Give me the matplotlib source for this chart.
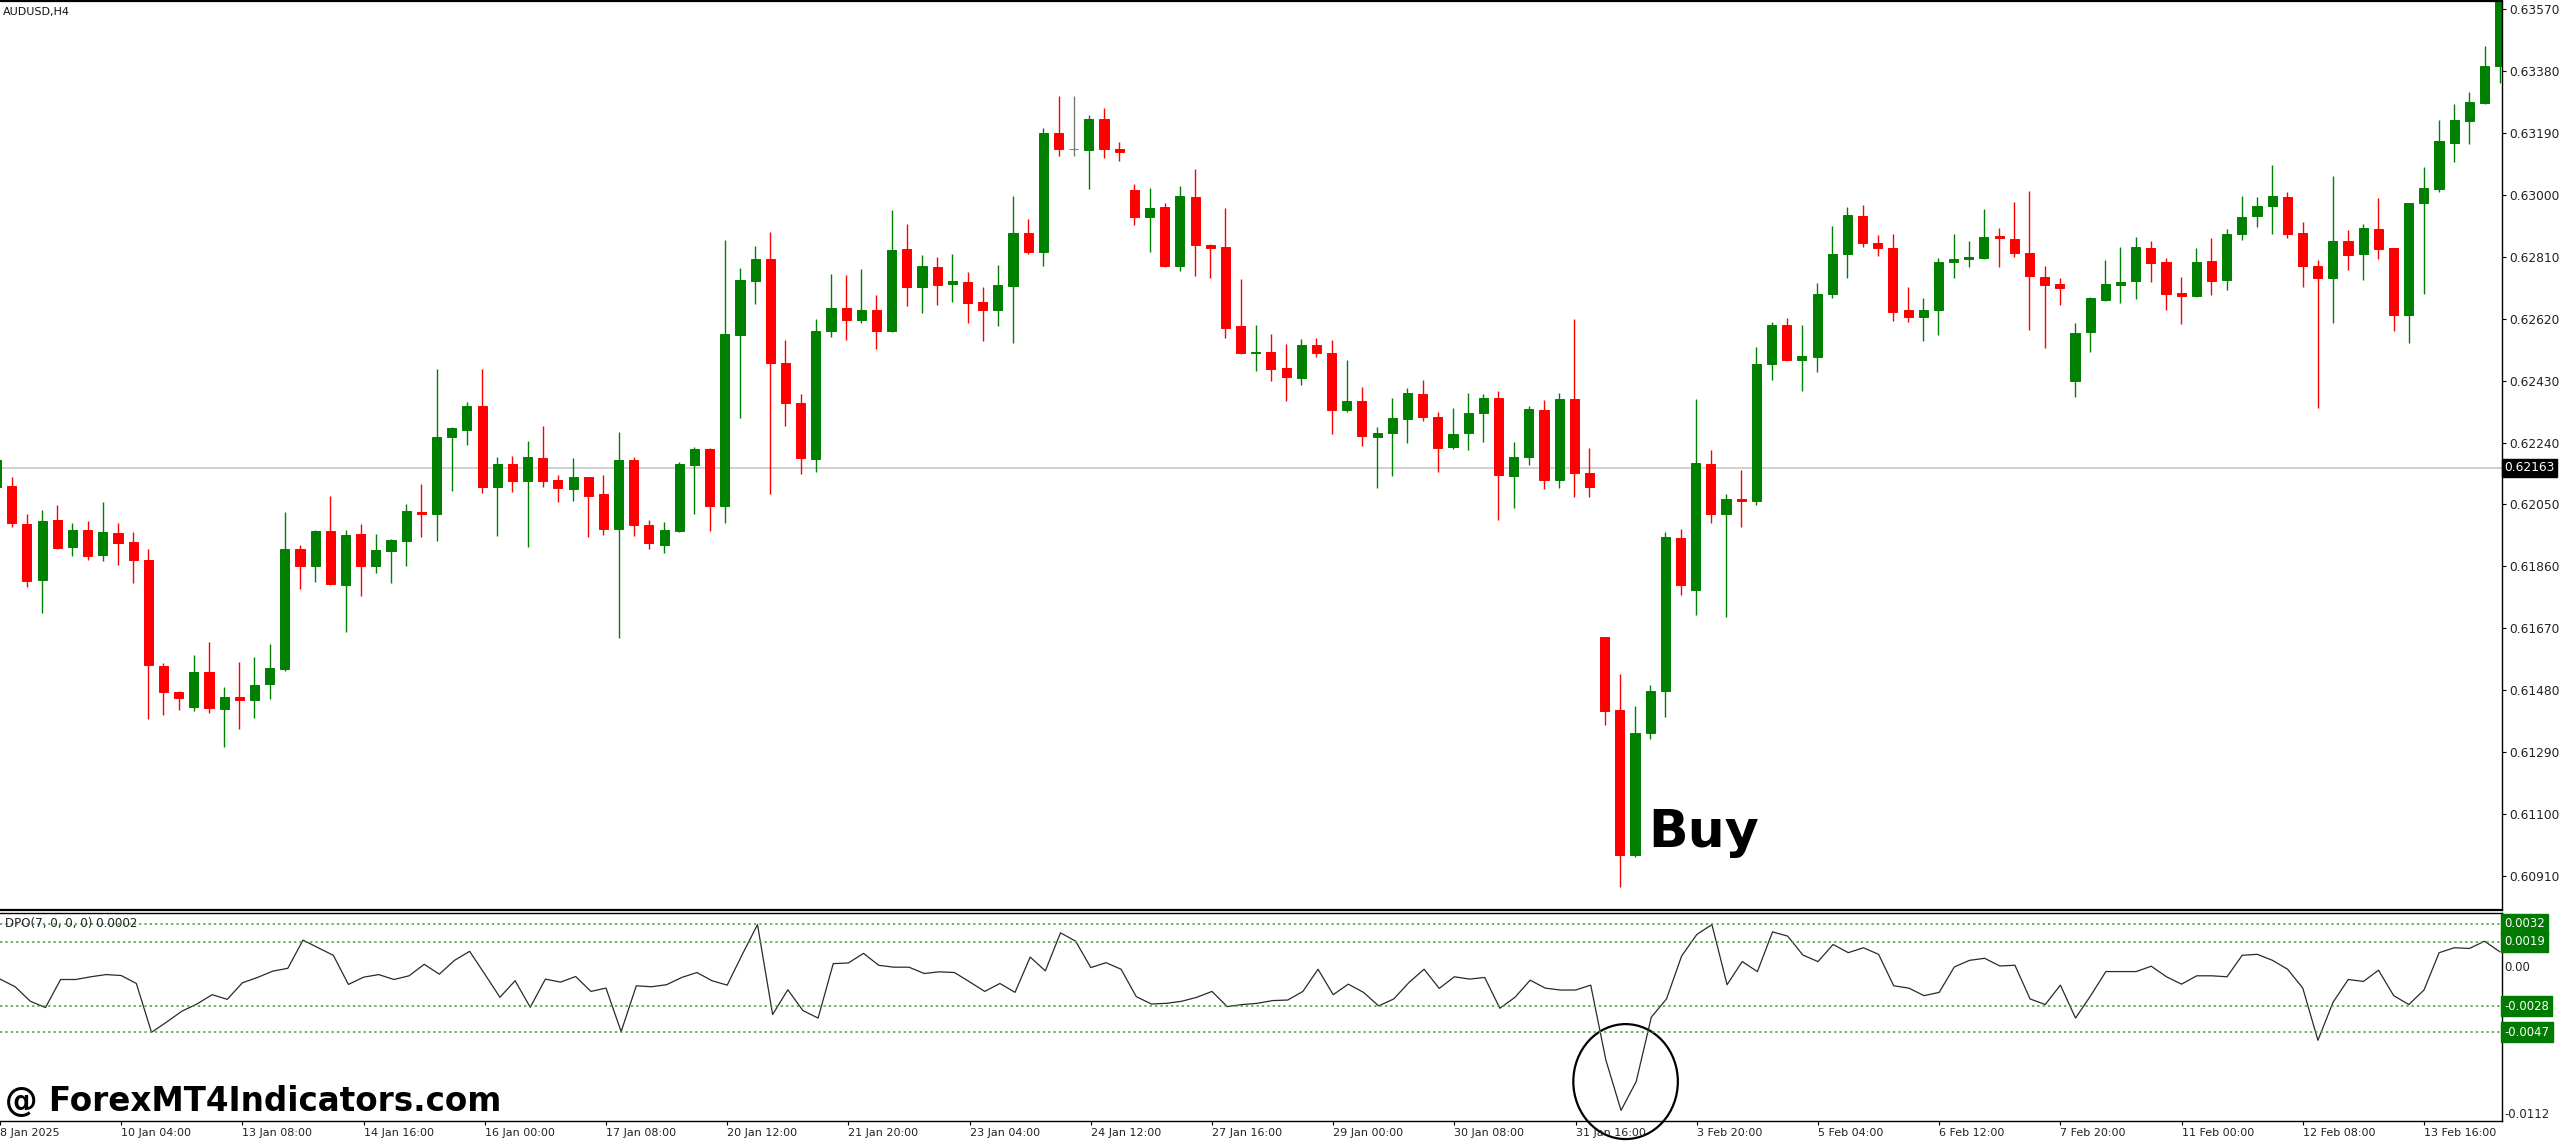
import matplotlib
matplotlib.use('Agg')
import matplotlib.pyplot as plt
from matplotlib.patches import Ellipse
import numpy as np

# AUDUSD H4 candles, 8 Jan 2025 20:00 .. 14 Feb 2025 12:00
opens = [0.62105, 0.62108, 0.61989, 0.61817, 0.62001, 0.61918, 0.61973, 0.61894, 0.61961, 0.61934,
         0.61881, 0.61554, 0.61474, 0.61428, 0.61535, 0.61422, 0.61459, 0.61449, 0.61498, 0.61544,
         0.61912, 0.61860, 0.61970, 0.61802, 0.61958, 0.61860, 0.61906, 0.61937, 0.62027, 0.62022,
         0.62258, 0.62277, 0.62353, 0.62102, 0.62173, 0.62121, 0.62194, 0.62124, 0.62096, 0.62133,
         0.62081, 0.61976, 0.62185, 0.61986, 0.61927, 0.61970, 0.62170, 0.62219, 0.62044, 0.62571,
         0.62737, 0.62804, 0.62485, 0.62360, 0.62188, 0.62583, 0.62654, 0.62617, 0.62645, 0.62583,
         0.62835, 0.62718, 0.62779, 0.62727, 0.62733, 0.62672, 0.62648, 0.62721, 0.62884, 0.62825,
         0.63190, 0.63141, 0.63138, 0.63233, 0.63141, 0.63015, 0.62933, 0.62963, 0.62782, 0.62994,
         0.62847, 0.62841, 0.62596, 0.62514, 0.62517, 0.62468, 0.62439, 0.62540, 0.62514, 0.62341,
         0.62366, 0.62258, 0.62268, 0.62311, 0.62390, 0.62317, 0.62226, 0.62268, 0.62330, 0.62376,
         0.62136, 0.62197, 0.62341, 0.62124, 0.62375, 0.62147, 0.61642, 0.61419, 0.60974, 0.61348,
         0.61477, 0.61946, 0.61786, 0.62173, 0.62022, 0.62068, 0.62062, 0.62482, 0.62602, 0.62494,
         0.62501, 0.62697, 0.62819, 0.62936, 0.62853, 0.62838, 0.62645, 0.62626, 0.62648, 0.62795,
         0.62804, 0.62807, 0.62874, 0.62865, 0.62822, 0.62749, 0.62727, 0.62430, 0.62580, 0.62678,
         0.62724, 0.62737, 0.62838, 0.62795, 0.62700, 0.62691, 0.62798, 0.62740, 0.62880, 0.62936,
         0.62966, 0.62994, 0.62884, 0.62782, 0.62746, 0.62859, 0.62819, 0.62896, 0.62838, 0.62632,
         0.62976, 0.63018, 0.63159, 0.63227, 0.63282, 0.63395]
highs = [0.62191, 0.62133, 0.62022, 0.62032, 0.62047, 0.61992, 0.61998, 0.62056, 0.61992, 0.61964,
         0.61912, 0.61563, 0.61477, 0.61587, 0.61627, 0.61489, 0.61566, 0.61581, 0.61621, 0.62026,
         0.61927, 0.61973, 0.62075, 0.61973, 0.61989, 0.61958, 0.61943, 0.62050, 0.62114, 0.62467,
         0.62289, 0.62363, 0.62464, 0.62197, 0.62200, 0.62246, 0.62292, 0.62139, 0.62194, 0.62133,
         0.62139, 0.62271, 0.62197, 0.62001, 0.61995, 0.62179, 0.62225, 0.62222, 0.62862, 0.62776,
         0.62844, 0.62887, 0.62556, 0.62390, 0.62620, 0.62758, 0.62755, 0.62773, 0.62694, 0.62954,
         0.62911, 0.62816, 0.62810, 0.62819, 0.62764, 0.62718, 0.62786, 0.62997, 0.62926, 0.63205,
         0.63303, 0.63303, 0.63245, 0.63267, 0.63162, 0.63034, 0.63021, 0.62976, 0.63028, 0.63080,
         0.62850, 0.62960, 0.62743, 0.62599, 0.62574, 0.62543, 0.62559, 0.62562, 0.62556, 0.62494,
         0.62409, 0.62289, 0.62378, 0.62406, 0.62433, 0.62334, 0.62346, 0.62393, 0.62390, 0.62399,
         0.62243, 0.62353, 0.62369, 0.62392, 0.62620, 0.62222, 0.61642, 0.61529, 0.61431, 0.61495,
         0.61964, 0.61976, 0.62375, 0.62216, 0.62081, 0.62157, 0.62534, 0.62611, 0.62623, 0.62602,
         0.62730, 0.62905, 0.62963, 0.62969, 0.62877, 0.62880, 0.62718, 0.62684, 0.62807, 0.62880,
         0.62859, 0.62957, 0.62899, 0.62979, 0.63012, 0.62782, 0.62746, 0.62608, 0.62687, 0.62801,
         0.62841, 0.62871, 0.62859, 0.62807, 0.62749, 0.62838, 0.62868, 0.62896, 0.62997, 0.62994,
         0.63092, 0.63009, 0.62917, 0.62801, 0.63058, 0.62893, 0.62911, 0.62991, 0.62838, 0.62976,
         0.63086, 0.63230, 0.63279, 0.63316, 0.63457, 0.63610]
lows = [0.62087, 0.61980, 0.61796, 0.61716, 0.61912, 0.61891, 0.61881, 0.61878, 0.61863, 0.61808,
        0.61391, 0.61403, 0.61419, 0.61416, 0.61410, 0.61305, 0.61361, 0.61394, 0.61452, 0.61538,
        0.61790, 0.61811, 0.61802, 0.61658, 0.61768, 0.61839, 0.61808, 0.61860, 0.61949, 0.61937,
        0.62090, 0.62231, 0.62084, 0.61952, 0.62087, 0.61918, 0.62102, 0.62056, 0.62062, 0.61949,
        0.61955, 0.61639, 0.61952, 0.61912, 0.61900, 0.61964, 0.62022, 0.61967, 0.61992, 0.62314,
        0.62666, 0.62081, 0.62292, 0.62142, 0.62151, 0.62565, 0.62553, 0.62608, 0.62528, 0.62580,
        0.62660, 0.62638, 0.62663, 0.62672, 0.62608, 0.62550, 0.62596, 0.62546, 0.62819, 0.62782,
        0.63120, 0.63120, 0.63018, 0.63113, 0.63104, 0.62908, 0.62825, 0.62779, 0.62767, 0.62752,
        0.62746, 0.62562, 0.62513, 0.62458, 0.62430, 0.62366, 0.62416, 0.62501, 0.62265, 0.62334,
        0.62228, 0.62099, 0.62136, 0.62237, 0.62307, 0.62148, 0.62219, 0.62216, 0.62243, 0.62001,
        0.62038, 0.62171, 0.62098, 0.62101, 0.62073, 0.62073, 0.61373, 0.60875, 0.60968, 0.61330,
        0.61397, 0.61771, 0.61710, 0.61992, 0.61704, 0.61980, 0.62047, 0.62433, 0.62491, 0.62399,
        0.62455, 0.62684, 0.62746, 0.62841, 0.62813, 0.62614, 0.62611, 0.62550, 0.62571, 0.62746,
        0.62779, 0.62804, 0.62779, 0.62810, 0.62586, 0.62531, 0.62663, 0.62381, 0.62519, 0.62675,
        0.62669, 0.62681, 0.62733, 0.62645, 0.62605, 0.62687, 0.62694, 0.62709, 0.62862, 0.62902,
        0.62880, 0.62868, 0.62718, 0.62347, 0.62608, 0.62770, 0.62740, 0.62804, 0.62583, 0.62546,
        0.62697, 0.63009, 0.63101, 0.63156, 0.63279, 0.63343]
closes = [0.62185, 0.61992, 0.61814, 0.61998, 0.61915, 0.61973, 0.61891, 0.61964, 0.61931, 0.61881,
          0.61557, 0.61474, 0.61456, 0.61535, 0.61425, 0.61459, 0.61449, 0.61495, 0.61547, 0.61912,
          0.61860, 0.61967, 0.61805, 0.61955, 0.61860, 0.61909, 0.61940, 0.62029, 0.62022, 0.62258,
          0.62283, 0.62353, 0.62102, 0.62173, 0.62121, 0.62197, 0.62121, 0.62099, 0.62133, 0.62075,
          0.61976, 0.62185, 0.61986, 0.61931, 0.61973, 0.62173, 0.62219, 0.62044, 0.62574, 0.62740,
          0.62804, 0.62485, 0.62360, 0.62191, 0.62583, 0.62654, 0.62617, 0.62645, 0.62583, 0.62831,
          0.62718, 0.62782, 0.62724, 0.62737, 0.62669, 0.62648, 0.62724, 0.62884, 0.62825, 0.63190,
          0.63141, 0.63141, 0.63233, 0.63141, 0.63132, 0.62933, 0.62960, 0.62782, 0.62997, 0.62847,
          0.62838, 0.62592, 0.62516, 0.62519, 0.62467, 0.62441, 0.62540, 0.62514, 0.62341, 0.62366,
          0.62260, 0.62268, 0.62315, 0.62392, 0.62317, 0.62223, 0.62265, 0.62332, 0.62376, 0.62139,
          0.62196, 0.62344, 0.62125, 0.62375, 0.62145, 0.62105, 0.61416, 0.60974, 0.61348, 0.61477,
          0.61949, 0.61802, 0.62176, 0.62022, 0.62068, 0.62062, 0.62482, 0.62599, 0.62494, 0.62504,
          0.62697, 0.62819, 0.62939, 0.62853, 0.62838, 0.62641, 0.62626, 0.62648, 0.62795, 0.62804,
          0.62810, 0.62871, 0.62868, 0.62822, 0.62752, 0.62724, 0.62715, 0.62577, 0.62684, 0.62727,
          0.62733, 0.62841, 0.62792, 0.62697, 0.62691, 0.62795, 0.62737, 0.62880, 0.62933, 0.62966,
          0.62997, 0.62880, 0.62782, 0.62746, 0.62859, 0.62816, 0.62899, 0.62835, 0.62632, 0.62976,
          0.63021, 0.63166, 0.63230, 0.63285, 0.63395, 0.63600]

# DPO(7) values, one per candle
dpo = [-0.00083, -0.00139, -0.00245, -0.00291, -0.00086, -0.00086, -0.00066, -0.00050, -0.00057, -0.00115,
       -0.00472, -0.00397, -0.00318, -0.00265, -0.00197, -0.00231, -0.00110, -0.00071, -0.00025, -0.00004,
       0.00202, 0.00146, 0.00091, -0.00122, -0.00069, -0.00050, -0.00086, -0.00059, 0.00025, -0.00047,
       0.00054, 0.00120, -0.00047, -0.00216, -0.00095, -0.00289, -0.00083, -0.00105, -0.00064, -0.00173,
       -0.00149, -0.00467, -0.00132, -0.00139, -0.00124, -0.00071, -0.00035, -0.00095, -0.00127, 0.00098,
       0.00315, -0.00342, -0.00161, -0.00313, -0.00368, 0.00030, 0.00035, 0.00105, 0.00018, 0.00004,
       0.00004, -0.00042, -0.00030, -0.00035, -0.00103, -0.00173, -0.00115, -0.00180, 0.00078, -0.00023,
       0.00255, 0.00194, 0.00001, 0.00037, -0.00011, -0.00211, -0.00265, -0.00260, -0.00245, -0.00216,
       -0.00173, -0.00284, -0.00269, -0.00260, -0.00240, -0.00236, -0.00173, -0.00011, -0.00197, -0.00120,
       -0.00180, -0.00279, -0.00228, -0.00108, -0.00011, -0.00151, -0.00066, -0.00083, -0.00071, -0.00296,
       -0.00216, -0.00091, -0.00149, -0.00163, -0.00163, -0.00127, -0.00675, -0.01042, -0.00832, -0.00361,
       -0.00228, 0.00086, 0.00243, 0.00315, -0.00124, 0.00045, -0.00028, 0.00262, 0.00231, 0.00093,
       0.00045, 0.00170, 0.00110, 0.00146, 0.00098, -0.00132, -0.00149, -0.00204, -0.00180, 0.00006,
       0.00054, 0.00069, 0.00013, 0.00018, -0.00228, -0.00269, -0.00127, -0.00368, -0.00204, -0.00028,
       -0.00028, -0.00028, 0.00011, -0.00066, -0.00120, -0.00059, -0.00059, -0.00066, 0.00091, 0.00098,
       0.00054, -0.00011, -0.00149, -0.00530, -0.00252, -0.00086, -0.00100, -0.00018, -0.00204, -0.00269,
       -0.00163, 0.00110, 0.00146, 0.00141, 0.00194, 0.00117]

time_labels = ["8 Jan 2025", "10 Jan 04:00", "13 Jan 08:00", "14 Jan 16:00", "16 Jan 00:00",
               "17 Jan 08:00", "20 Jan 12:00", "21 Jan 20:00", "23 Jan 04:00", "24 Jan 12:00",
               "27 Jan 16:00", "29 Jan 00:00", "30 Jan 08:00", "31 Jan 16:00", "3 Feb 20:00",
               "5 Feb 04:00", "6 Feb 12:00", "7 Feb 20:00", "11 Feb 00:00", "12 Feb 08:00",
               "13 Feb 16:00"]
time_positions = [0, 8, 16, 24, 32, 40, 48, 56, 64, 72, 80, 88, 96, 104, 112, 120, 128, 136, 144, 152, 160]

price_levels = [0.63570, 0.63380, 0.63190, 0.63000, 0.62810, 0.62620, 0.62430, 0.62240,
                0.62050, 0.61860, 0.61670, 0.61480, 0.61290, 0.61100, 0.60910]
price_line = 0.62163
dpo_levels = [0.0032, 0.0019, -0.0028, -0.0047]
dpo_min_label = -0.0112
buy_bar = 108

W, H = 2560, 1144
fig = plt.figure(figsize=(W / 100, H / 100), dpi=100)
fig.patch.set_facecolor('white')


def px_axes(left, top, right, bottom):
    return fig.add_axes([left / W, 1 - bottom / H, (right - left) / W, (bottom - top) / H])


ax = px_axes(0, 1, 2502, 910)
ax2 = px_axes(0, 913, 2502, 1121)

o = np.array(opens)
h = np.array(highs)
l = np.array(lows)
c = np.array(closes)
x = np.arange(len(o))

cols = np.where(c > o, '#008000', np.where(c < o, '#ff0000', '#7a7a7a'))
ax.vlines(x, l, h, colors=cols, linewidth=1.0)
ax.bar(x, np.abs(c - o), bottom=np.minimum(o, c), width=0.6, color=cols,
       edgecolor=cols, linewidth=0.7)

ax.axhline(price_line, color='#c8c8c8', linewidth=1.2, zorder=0)

xlim = (0.224, 165.15)
ax.set_xlim(*xlim)
ax.set_ylim(0.608058, 0.635945)

ax.yaxis.tick_right()
ax.set_yticks(price_levels)
ax.set_yticklabels(['%.5f' % p for p in price_levels])
ax.tick_params(axis='y', direction='out', length=3, width=0.8, pad=2,
               labelsize=8.8, labelcolor='#222222')
ax.tick_params(axis='x', bottom=False, labelbottom=False)
ax.spines['left'].set_visible(False)
ax.spines['top'].set_linewidth(1.6)
ax.spines['bottom'].set_linewidth(1.6)
ax.spines['right'].set_linewidth(1.0)

ax.text(1.0008, price_line, '%.5f' % price_line, transform=ax.get_yaxis_transform(),
        color='white', fontsize=8.8, va='center', ha='left', clip_on=False,
        bbox=dict(boxstyle='square,pad=0.2', fc='black', ec='black'))
ax.text(3 / 2502, 1 - 11 / 909, 'AUDUSD,H4', transform=ax.transAxes,
        fontsize=8, va='center', ha='left', color='#111111')

ax.text(buy_bar + 0.86, lows[buy_bar] + 0.00031, 'Buy', fontsize=37.5,
        fontweight='bold', va='baseline', ha='left', color='black')

# DPO window
ax2.plot(x, dpo, color='#2a2a2a', linewidth=0.9)
for lv in dpo_levels:
    ax2.axhline(lv, color='#3aa03a', linewidth=1.1, linestyle=(0, (1.5, 2)))
ax2.set_xlim(*xlim)
ax2.set_ylim(dpo_min_label, 0.0040)
ax2.set_yticks([])
ax2.set_xticks(time_positions)
ax2.set_xticklabels(time_labels, ha='left')
ax2.tick_params(axis='x', direction='out', length=3, width=0.8, pad=2,
                labelsize=8, labelcolor='#222222')
ax2.spines['left'].set_visible(False)
for s in ('top', 'bottom', 'right'):
    ax2.spines[s].set_linewidth(1.0)

for lv in dpo_levels:
    ax2.text(1.0008, lv, '%.4f' % lv, transform=ax2.get_yaxis_transform(),
             color='white', fontsize=8.4, va='center', ha='left', clip_on=False,
             bbox=dict(boxstyle='square,pad=0.3', fc='#007a00', ec='#007a00'))
ax2.text(1.0008, 0.0, '0.00', transform=ax2.get_yaxis_transform(),
         color='#222222', fontsize=8.4, va='center', ha='left', clip_on=False)
ax2.text(1.0008, dpo_min_label, '%.4f' % dpo_min_label, transform=ax2.get_yaxis_transform(),
         color='#222222', fontsize=8.4, va='bottom', ha='left', clip_on=False)
ax2.text(5 / 2502, 1 - 11 / 208, 'DPO(7, 0, 0, 0) 0.0002', transform=ax2.transAxes,
         fontsize=8.6, va='center', ha='left', color='#222222')

# circle round the deepest DPO dip
imin = int(np.argmin(dpo))
ax2.add_patch(Ellipse((imin + 0.3, dpo[imin] + 0.0021), 6.9, 0.0084,
                      fill=False, edgecolor='black', linewidth=1.6, clip_on=False))

fig.text(5 / W, 1 - 1111 / H, '@ ForexMT4Indicators.com', fontsize=23.5,
         fontweight='bold', va='baseline', ha='left', color='black')

fig.savefig('out.png', dpi=100)
